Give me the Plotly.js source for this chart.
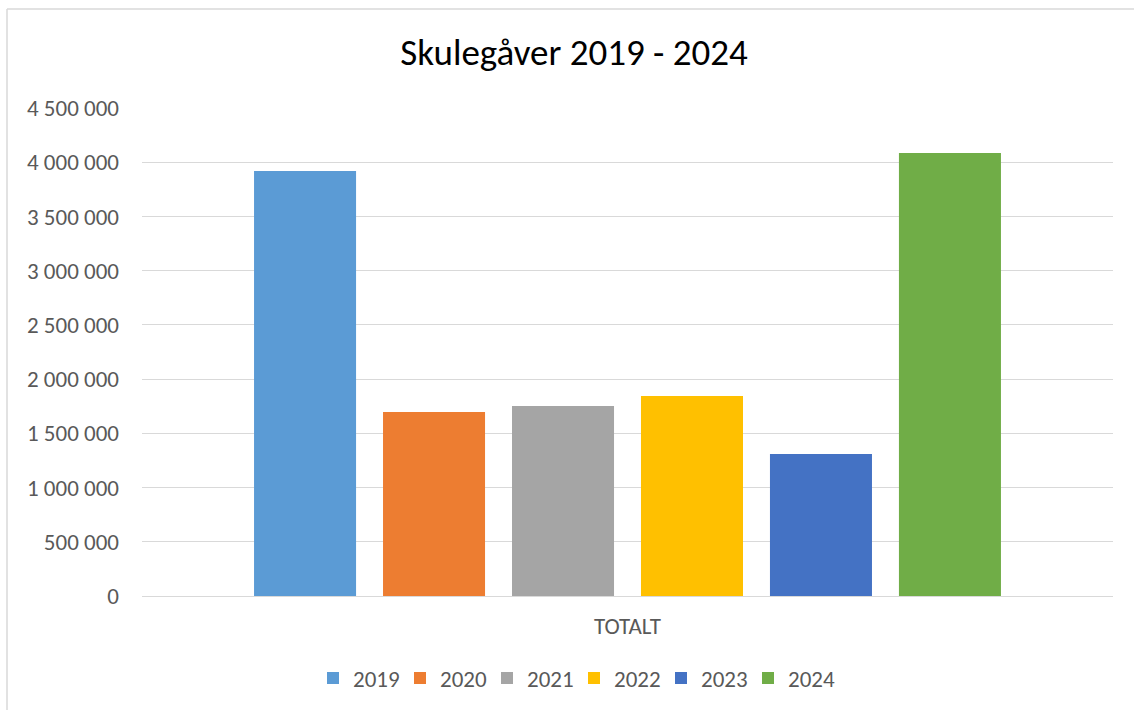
<!DOCTYPE html>
<html><head><meta charset="utf-8">
<script src="https://cdn.plot.ly/plotly-3.0.1.min.js"></script>
<style>html,body{margin:0;padding:0;background:#fff}#c{width:1134px;height:710px}</style>
</head><body><div id="c"></div>
<script>
const categories = ["TOTALT"];
const years = ["2019", "2020", "2021", "2022", "2023", "2024"];
const values = [3920000, 1697000, 1752000, 1844000, 1309000, 4085000];
const colors = ["#5b9bd5", "#ed7d31", "#a5a5a5", "#ffc000", "#4472c4", "#70ad47"];
const yTicks = [0, 500000, 1000000, 1500000, 2000000, 2500000, 3000000, 3500000, 4000000, 4500000];

const font = "Calibri, Carlito, 'Liberation Sans', Arial, sans-serif";
const traces = years.map((y, i) => ({
  type: "bar", name: y, x: categories, y: [values[i]],
  marker: {color: colors[i]}, hoverinfo: "y+name"
}));

const L = 142, R = 1113, T = 108, B = 596;
const px = v => (v - L) / (R - L);
const py = v => (B - v) / (B - T);

const layout = {
  width: 1134, height: 710,
  margin: {l: L, r: 1134 - R, t: T, b: 710 - B, autoexpand: false},
  separators: ", ",
  paper_bgcolor: "#fff", plot_bgcolor: "#fff",
  font: {family: font, color: "#595959", size: 23},
  title: {text: "Skulegåver 2019 - 2024", font: {family: font, size: 37, color: "#000"},
          x: 574 / 1134, xref: "container", xanchor: "center", y: 1 - 52 / 710, yref: "container", yanchor: "middle"},
  barmode: "group", bargap: 0.203, bargroupgap: 0.209,
  xaxis: {showgrid: false, zeroline: false, showline: false, ticks: "", ticklabelstandoff: 14,
          tickfont: {size: 23, color: "#595959"}},
  yaxis: {range: [0, 4500000], tickvals: yTicks, tickformat: ",d", showgrid: true, gridcolor: "#d9d9d9",
          gridwidth: 1, zeroline: true, zerolinecolor: "#d9d9d9", zerolinewidth: 1, showline: false, ticks: "",
          ticklabelstandoff: 22, tickfont: {size: 23, color: "#595959"}, fixedrange: true},
  legend: {orientation: "h", x: px(574), xanchor: "center", y: py(678), yanchor: "middle",
           font: {size: 23, color: "#595959"}, itemwidth: 30, traceorder: "normal", entrywidth: 42},
  showlegend: true,
  shapes: [
    {type: "line", xref: "paper", yref: "paper", x0: px(7), x1: px(1140), y0: py(9), y1: py(9), line: {color: "#d9d9d9", width: 1.5}},
    {type: "line", xref: "paper", yref: "paper", x0: px(7), x1: px(7), y0: py(9), y1: py(712), line: {color: "#d9d9d9", width: 1.5}}
  ]
};
Plotly.newPlot("c", traces, layout, {displayModeBar: false, staticPlot: true});
</script></body></html>
